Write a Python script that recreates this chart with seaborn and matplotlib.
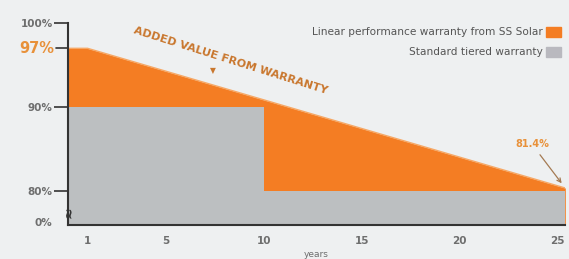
import matplotlib.pyplot as plt
import seaborn as sns
from matplotlib.patches import Rectangle

# data
linear_years = [0, 1, 25.4]
linear_vals = [97, 97, 80.4]
tier_years = [0, 10, 10, 25.4]
tier_vals = [90, 90, 80, 80]
x_ticks = [1, 5, 10, 15, 20, 25]
y_ticks = [76.4, 80, 90, 100]
y_labels = ['0%', '80%', '90%', '100%']
legend_labels = ['Linear performance warranty from SS Solar', 'Standard tiered warranty']

orange = '#f47d23'
grey = '#bcbfc1'
bg = '#eef0f1'
txt = '#6e6e6e'

sns.set_style('white')
plt.rcParams['font.family'] = ['DejaVu Sans']

fig = plt.figure(figsize=(5.69, 2.59), dpi=100, facecolor=bg)
ax = fig.add_axes([0.1195, 0.131, 0.874, 0.78])
ax.set_facecolor(bg)

ax.fill_between(linear_years, 76, linear_vals, color=orange, lw=0)
ax.fill_between(tier_years, 76, tier_vals, color=grey, lw=0)
sns.lineplot(x=linear_years, y=linear_vals, color='#f6a866', lw=1, ax=ax)

ax.set_xlim(0, 25.4)
ax.set_ylim(76, 100)
ax.set_xticks(x_ticks)
ax.set_xticklabels([str(t) for t in x_ticks], color=txt, fontsize=7.5, fontweight='bold')
ax.tick_params(axis='x', length=0, pad=8)
ax.set_yticks(y_ticks)
ax.set_yticklabels(y_labels, color=txt, fontsize=7.5, fontweight='bold')
ax.tick_params(axis='y', left=True, length=10, width=1.2, color='#333333', pad=1)
ax.yaxis.get_major_ticks()[0].tick1line.set_visible(False)

for s in ['top', 'right']:
    ax.spines[s].set_visible(False)
for s in ['left', 'bottom']:
    ax.spines[s].set_color('#333333')
    ax.spines[s].set_linewidth(1.5)

ax.set_xlabel('years', color=txt, fontsize=6.5, labelpad=3)

# 97% marker on the y axis
ax.plot([-0.6, 0], [97, 97], color='#333333', lw=1.2, clip_on=False)
ax.text(-0.7, 97, '97%', color='#e8913a', fontsize=10.5, fontweight='bold',
        ha='right', va='center')

# broken axis mark
ax.text(0, 77.5, '≈', color='#333333', fontsize=10, ha='center', va='center',
        rotation=90, fontweight='bold')

ax.text(8.3, 95.5, 'ADDED VALUE FROM WARRANTY', color='#c9772e', fontsize=8,
        fontweight='bold', rotation=-17.5, ha='center', va='center')
ax.text(7.4, 94.4, '▼', color='#c9772e', fontsize=5.5, ha='center', va='center')

ax.annotate('81.4%', xy=(25.3, 80.7), xytext=(23.7, 85.6),
            color='#e8913a', fontsize=7, fontweight='bold', ha='center', va='center',
            arrowprops=dict(arrowstyle='->', color='#a47a52', lw=0.9))

# legend drawn as text plus swatches
ax.text(0.955, 0.955, legend_labels[0], transform=ax.transAxes, color='#555555',
        fontsize=7.6, ha='right', va='center')
ax.text(0.955, 0.856, legend_labels[1], transform=ax.transAxes, color='#555555',
        fontsize=7.6, ha='right', va='center')
ax.add_patch(Rectangle((0.962, 0.93), 0.03, 0.05, transform=ax.transAxes,
                       color=orange, clip_on=False))
ax.add_patch(Rectangle((0.962, 0.831), 0.03, 0.05, transform=ax.transAxes,
                       color='#b9b9bf', clip_on=False))

fig.savefig('out.png', dpi=100, facecolor=bg)
